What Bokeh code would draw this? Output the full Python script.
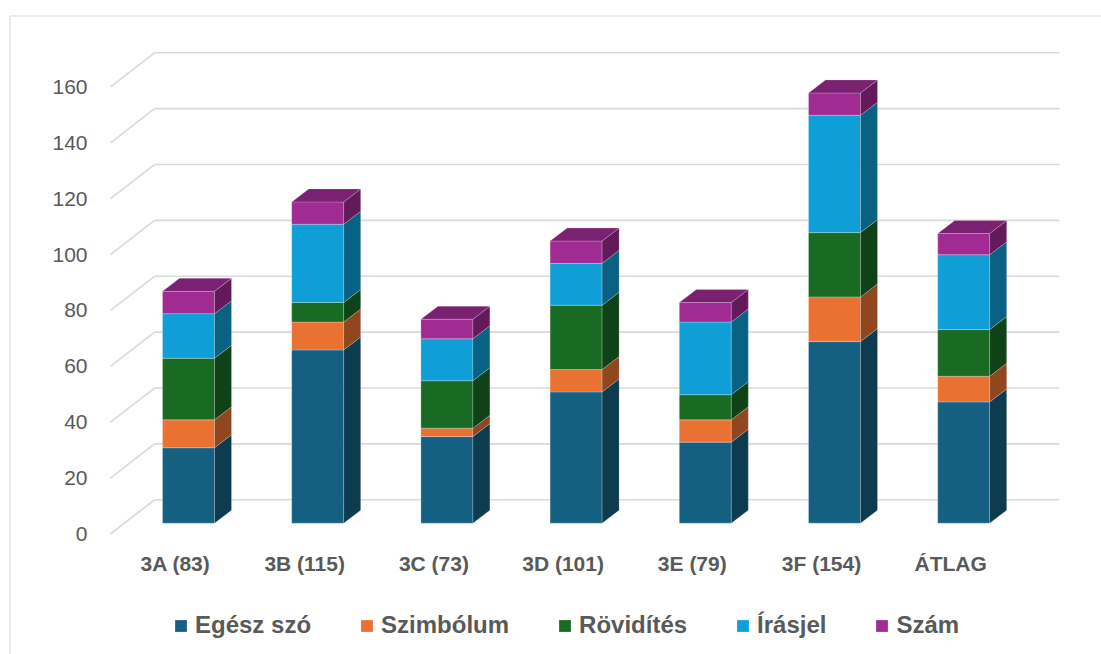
import numpy as np
from bokeh.plotting import figure
from bokeh.models import (Range1d, LinearAxis, FixedTicker, Legend, LegendItem,
                          ColumnDataSource, Grid)
from bokeh.embed import file_html
from bokeh.resources import INLINE

# ---------------- data ----------------
categories = ["3A (83)", "3B (115)", "3C (73)", "3D (101)", "3E (79)", "3F (154)", "ÁTLAG"]
series_names = ["Egész szó", "Szimbólum", "Rövidítés", "Írásjel", "Szám"]
egesz_szo = [27, 62, 31, 47, 29, 65, 43.4]
szimbolum = [10, 10, 3, 8, 8, 16, 9.2]
rovidites = [22, 7, 17, 23, 9, 23, 16.7]
irasjel = [16, 28, 15, 15, 26, 42, 26.8]
szam = [8, 8, 7, 8, 7, 8, 7.6]
y_ticks = [0, 20, 40, 60, 80, 100, 120, 140, 160]

series_values = [egesz_szo, szimbolum, rovidites, irasjel, szam]
colors = ["#156082", "#E97132", "#196B24", "#0F9ED5", "#A02B93"]

# ---------------- geometry / style ----------------
W, H = 1101, 654
PX_PER_X = 129.2      # pixels per category step
X0_PX = 188.0         # pixel of first category centre (bar front face)
PX_PER_V = 2.794      # pixels per value unit
V0_PX = 522.7         # pixel of value 0 on the bar front face


def dx(px):
    return px / PX_PER_X


def dv(px):
    return px / PX_PER_V


def shade(hexcol, f):
    h = hexcol.lstrip("#")
    r, g, b = (int(h[i:i + 2], 16) for i in (0, 2, 4))
    return "#%02x%02x%02x" % (int(r * f), int(g * f), int(b * f))


x_range = Range1d(-X0_PX / PX_PER_X, (W - X0_PX) / PX_PER_X)
y_range = Range1d((V0_PX - H) / PX_PER_V, V0_PX / PX_PER_V)

p = figure(width=W, height=H, x_range=x_range, y_range=y_range,
           output_backend="svg", toolbar_location=None,
           x_axis_location=None, y_axis_location=None,
           min_border=0, outline_line_color=None,
           background_fill_color="white", border_fill_color="white")
for r in p.select(type=Grid):
    r.visible = False
p.xgrid.grid_line_color = None
p.ygrid.grid_line_color = None

BAR_W = dx(52)
DEPTH_X = dx(17)
DEPTH_V = dv(13)

WALL_X0 = dx(154 - X0_PX)
WALL_X1 = dx(1059 - X0_PX)
WALL_DV = dv(V0_PX - 499.3)
FRONT_X = dx(110 - X0_PX)
FRONT_DV = dv(533.5 - V0_PX)

# chart-area border
bx = dx(9.5 - X0_PX)
by = dv(V0_PX - 15.5)
p.line([bx, bx, dx(W + 5 - X0_PX)], [dv(V0_PX - H - 5), by, by],
       line_color="#D9D9D9", line_width=1)

# gridlines: back wall + side wall diagonals
yt = np.array(y_ticks, dtype=float)
p.segment(x0=[WALL_X0] * len(yt), x1=[WALL_X1] * len(yt),
          y0=yt + WALL_DV, y1=yt + WALL_DV,
          line_color="#D9D9D9", line_width=1.6)
p.segment(x0=[FRONT_X] * len(yt), x1=[WALL_X0] * len(yt),
          y0=yt - FRONT_DV, y1=yt + WALL_DV,
          line_color="#D9D9D9", line_width=1.6)

# ---------------- bars ----------------
xs = list(range(len(categories)))
keys = ["s%d" % i for i in range(len(series_values))]
src = ColumnDataSource(dict(x=xs, **{k: v for k, v in zip(keys, series_values)}))

front_renderers = p.vbar_stack(keys, x="x", width=BAR_W, source=src,
                               fill_color=colors, line_color="#ffffff",
                               line_alpha=0.3, line_width=0.8)

vals = np.array(series_values, dtype=float)
tops = np.cumsum(vals, axis=0)
bottoms = tops - vals
xr = np.array(xs, dtype=float) + BAR_W / 2
xl = np.array(xs, dtype=float) - BAR_W / 2

for k in range(len(series_values)):
    side_x, side_y = [], []
    for i in range(len(xs)):
        b, t = bottoms[k, i], tops[k, i]
        side_x.append([xr[i], xr[i] + DEPTH_X, xr[i] + DEPTH_X, xr[i]])
        side_y.append([b, b + DEPTH_V, t + DEPTH_V, t])
    p.patches(side_x, side_y, fill_color=shade(colors[k], 0.62),
              line_color="#ffffff", line_alpha=0.25, line_width=0.8)

top_x, top_y = [], []
for i in range(len(xs)):
    t = tops[-1, i]
    top_x.append([xl[i], xr[i], xr[i] + DEPTH_X, xl[i] + DEPTH_X])
    top_y.append([t, t, t + DEPTH_V, t + DEPTH_V])
p.patches(top_x, top_y, fill_color=shade(colors[-1], 0.77),
          line_color="#ffffff", line_alpha=0.25, line_width=0.8)

# ---------------- axes ----------------
p.extra_y_ranges = {"front": Range1d(y_range.start + FRONT_DV, y_range.end + FRONT_DV)}
yaxis = LinearAxis(y_range_name="front", fixed_location=FRONT_X,
                   ticker=FixedTicker(ticks=y_ticks),
                   axis_line_color=None, major_tick_line_color=None,
                   minor_tick_line_color=None, major_tick_out=0, major_tick_in=0,
                   major_label_standoff=23,
                   major_label_text_font="Liberation Sans",
                   major_label_text_font_size="21px",
                   major_label_text_color="#595959")
p.add_layout(yaxis, "left")

p.extra_x_ranges = {"front": Range1d(x_range.start + dx(13), x_range.end + dx(13))}
xaxis = LinearAxis(x_range_name="front", fixed_location=dv(V0_PX - 540),
                   ticker=FixedTicker(ticks=xs),
                   major_label_overrides={i: c for i, c in zip(xs, categories)},
                   axis_line_color=None, major_tick_line_color=None,
                   minor_tick_line_color=None, major_tick_out=0, major_tick_in=0,
                   major_label_standoff=11,
                   major_label_text_font="Liberation Sans",
                   major_label_text_font_style="bold",
                   major_label_text_font_size="21px",
                   major_label_text_color="#595959")
p.add_layout(xaxis, "below")

# ---------------- legend ----------------
legend = Legend(items=[LegendItem(label=n, renderers=[r])
                       for n, r in zip(series_names, front_renderers)],
                orientation="horizontal", location=(173, 15),
                glyph_width=15, glyph_height=15, label_standoff=7,
                spacing=48, padding=0, margin=0,
                border_line_color=None, background_fill_alpha=0,
                label_text_font="Liberation Sans",
                label_text_font_style="bold",
                label_text_font_size="24px",
                label_text_color="#595959")
p.add_layout(legend)

open("out.html", "w").write(file_html(p, INLINE))
